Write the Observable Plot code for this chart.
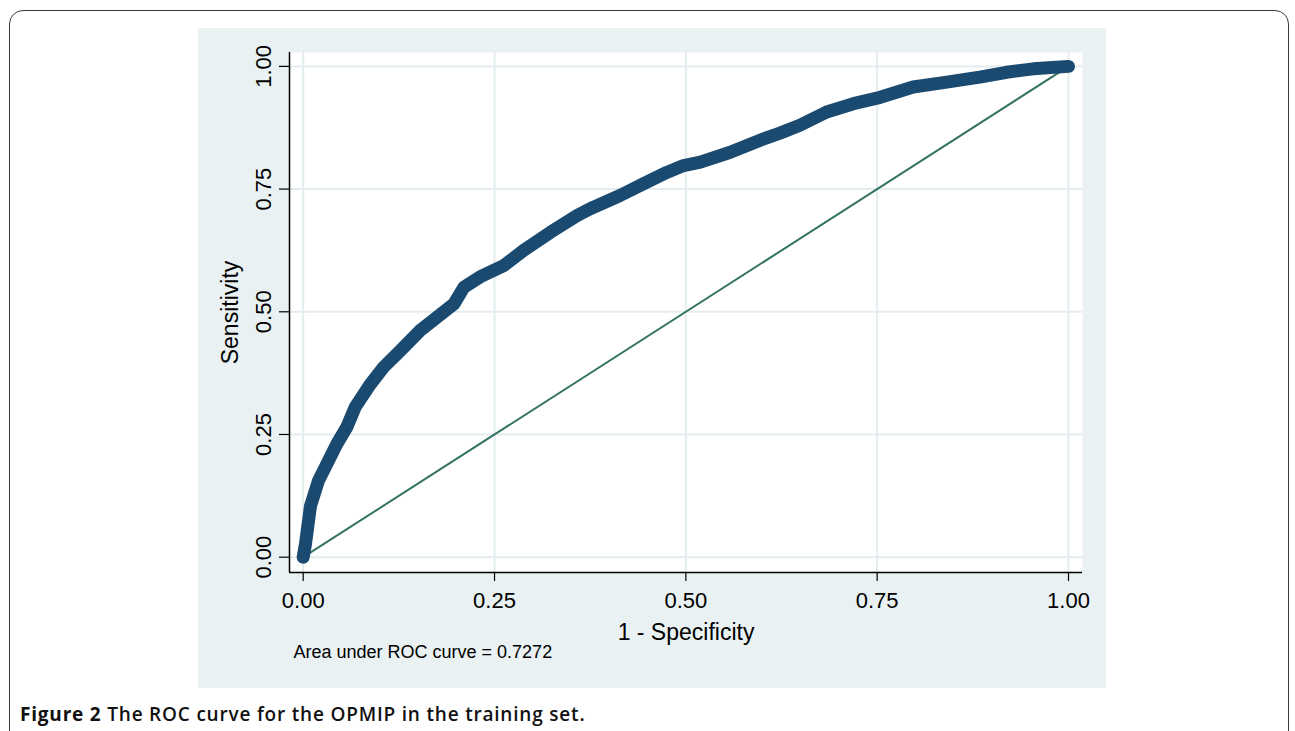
<!DOCTYPE html>
<html>
<head>
<meta charset="utf-8">
<script src="https://cdn.jsdelivr.net/npm/d3@7"></script>
<script src="https://cdn.jsdelivr.net/npm/@observablehq/plot@0.6"></script>
<style>
  html, body { margin: 0; padding: 0; background: #ffffff; width: 1295px; height: 731px; overflow: hidden; }
  #border { position: absolute; left: 9px; top: 10px; width: 1280px; height: 740px; border: 1.5px solid #3a3a3a; border-radius: 14px; box-sizing: border-box; }
  #panel { position: absolute; left: 198px; top: 28px; width: 908px; height: 660px; background: #e9f1f3; }
  #caption { position: absolute; left: 20px; top: 701px; font-family: "Open Sans", "Noto Sans", sans-serif; font-size: 19px; letter-spacing: 0.8px; font-weight: 700; color: #111; white-space: nowrap; }
  #caption .rest { font-weight: 600; }
</style>
</head>
<body>
<div id="border"></div>
<div id="panel"></div>
<div id="caption"><span>Figure 2</span><span class="rest"> The ROC curve for the OPMIP in the training set.</span></div>
<script>
// ROC curve points (1 - specificity, sensitivity)
const fpr = [0, 0.003, 0.0095, 0.020, 0.031, 0.044, 0.057, 0.068, 0.088, 0.105, 0.127, 0.153, 0.175, 0.197, 0.210, 0.231, 0.262, 0.288, 0.323, 0.358, 0.375, 0.414, 0.445, 0.475, 0.497, 0.519, 0.558, 0.601, 0.623, 0.649, 0.684, 0.719, 0.754, 0.797, 0.841, 0.884, 0.919, 0.954, 1.0];
const tpr = [0, 0.027, 0.104, 0.156, 0.190, 0.231, 0.265, 0.306, 0.353, 0.387, 0.421, 0.462, 0.489, 0.516, 0.550, 0.571, 0.594, 0.625, 0.662, 0.696, 0.710, 0.737, 0.761, 0.784, 0.798, 0.805, 0.825, 0.852, 0.864, 0.880, 0.907, 0.924, 0.937, 0.958, 0.968, 0.978, 0.988, 0.995, 1.0];
// Reference (chance) line
const diagX = [0, 1];
const diagY = [0, 1];
// Ticks and labels
const xTicks = [0, 0.25, 0.5, 0.75, 1];
const yTicks = [0, 0.25, 0.5, 0.75, 1];
const xLabel = "1 - Specificity";
const yLabel = "Sensitivity";
const aucNote = "Area under ROC curve = 0.7272";

const roc = fpr.map((x, i) => ({x, y: tpr[i]}));
const diag = diagX.map((x, i) => ({x, y: diagY[i]}));

const xDom = [-0.0179, 1.0183];
const yDom = [-0.0312, 1.0283];
const font = "'Liberation Sans', Arial, Helvetica, sans-serif";
const fmt = d3.format(".2f");

const chart = Plot.plot({
  width: 908,
  height: 660,
  marginLeft: 91,
  marginRight: 24,
  marginTop: 24,
  marginBottom: 116,
  style: { fontFamily: font, background: "transparent", overflow: "visible", color: "#000" },
  x: { domain: xDom, axis: null },
  y: { domain: yDom, axis: null },
  marks: [
    Plot.frame({ fill: "#ffffff", stroke: null }),
    Plot.gridX(xTicks, { stroke: "#e3ecef", strokeOpacity: 1, strokeWidth: 2 }),
    Plot.gridY(yTicks, { stroke: "#e3ecef", strokeOpacity: 1, strokeWidth: 2 }),
    Plot.axisX(xTicks, { tickSize: 9, tickPadding: 11, tickFormat: fmt, fontSize: 22, label: null, stroke: "#000", strokeWidth: 1.2, fill: "#000" }),
    Plot.axisY(yTicks, { tickSize: 10, tickFormat: () => "", label: null, stroke: "#000", strokeWidth: 1.2 }),
    Plot.text(yTicks, { frameAnchor: "left", y: d => d, text: d => fmt(d), rotate: -90, dx: -19, textAnchor: "middle", lineAnchor: "bottom", fontSize: 22, fill: "#000" }),
    Plot.ruleX([xDom[0]], { stroke: "#000", strokeWidth: 1.5 }),
    Plot.ruleY([yDom[0]], { stroke: "#000", strokeWidth: 1.5 }),
    Plot.line(diag, { x: "x", y: "y", stroke: "#33735f", strokeWidth: 2 }),
    Plot.line(roc, { x: "x", y: "y", stroke: "#1b4a70", strokeWidth: 13, strokeLinecap: "round", strokeLinejoin: "round", curve: "linear" }),
    Plot.text([xLabel], { frameAnchor: "bottom", dy: 67, lineAnchor: "bottom", fontSize: 23, fill: "#000" }),
    Plot.text([yLabel], { frameAnchor: "left", dx: -52, rotate: -90, textAnchor: "middle", lineAnchor: "bottom", fontSize: 23, fill: "#000" }),
    Plot.text([aucNote], { frameAnchor: "bottom-left", dx: 4, dy: 85, textAnchor: "start", lineAnchor: "bottom", fontSize: 18, fill: "#000" })
  ]
});
document.getElementById("panel").appendChild(chart);
</script>
</body>
</html>
